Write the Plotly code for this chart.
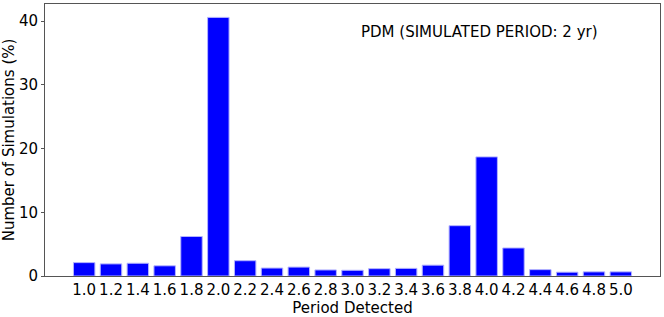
import plotly.graph_objects as go

periods = [1.0, 1.2, 1.4, 1.6, 1.8, 2.0, 2.2, 2.4, 2.6, 2.8, 3.0,
           3.2, 3.4, 3.6, 3.8, 4.0, 4.2, 4.4, 4.6, 4.8, 5.0]
percent = [2.1, 1.9, 2.0, 1.6, 6.2, 40.6, 2.4, 1.25, 1.4, 0.95, 0.9,
           1.15, 1.2, 1.7, 7.9, 18.7, 4.4, 1.0, 0.6, 0.65, 0.65]
tick_labels = [f"{p:.1f}" for p in periods]

fig = go.Figure()
fig.add_trace(go.Bar(
    x=periods, y=percent, width=0.16,
    marker=dict(color="#0000ff", line=dict(color="#b3b3ff", width=1)),
))

font = "DejaVu Sans, sans-serif"
fig.update_layout(
    width=664, height=317,
    margin=dict(l=45, r=4, t=4, b=41),
    paper_bgcolor="white", plot_bgcolor="white",
    showlegend=False,
    font=dict(family=font, size=15, color="black"),
    xaxis=dict(
        range=[0.708, 5.292], tickvals=periods, ticktext=tick_labels,
        showgrid=False, zeroline=False, ticks="", ticklen=0,
        showline=True, linecolor="#555555", linewidth=1, mirror=True,
        tickfont=dict(size=15), automargin=False,
        title=dict(text="Period Detected", font=dict(size=15), standoff=0),
    ),
    yaxis=dict(
        range=[0, 42.7], tickvals=[0, 10, 20, 30, 40],
        showgrid=False, zeroline=False, ticks="outside", ticklen=3,
        tickcolor="#555555",
        showline=True, linecolor="#555555", linewidth=1, mirror=True,
        tickfont=dict(size=15), automargin=False,
        title=dict(text="Number of Simulations (%)", font=dict(size=15), standoff=4),
    ),
    annotations=[dict(
        text="PDM (SIMULATED PERIOD: 2 yr)", xref="paper", yref="paper",
        x=0.7065, y=0.898, xanchor="center", yanchor="middle",
        showarrow=False, font=dict(size=15, family=font),
    )],
)

fig.write_html(
    "out.html",
    config={"displayModeBar": False},
    post_script="document.body.style.margin='0';document.body.style.overflow='hidden';",
)
